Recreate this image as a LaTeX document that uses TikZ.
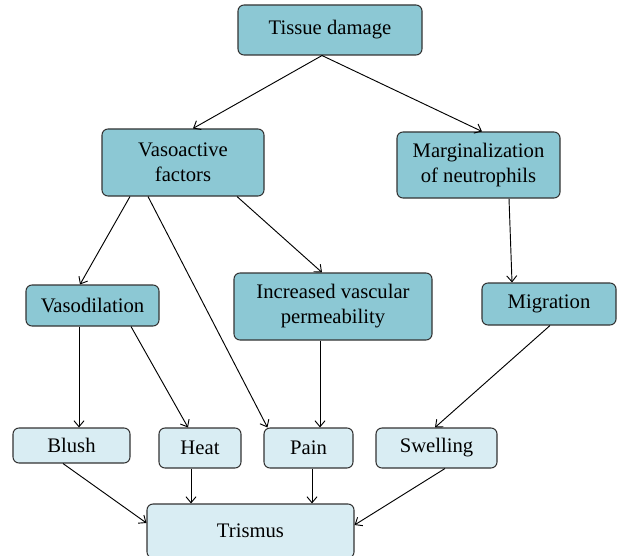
\documentclass[tikz,border=0pt]{standalone}
\usepackage{fontspec}
\setmainfont{Liberation Serif}
\usepackage{xcolor}
\usetikzlibrary{arrows.meta,calc}
\definecolor{boxdark}{HTML}{8CC8D4}
\definecolor{boxlight}{HTML}{D9EDF3}
\definecolor{edgegray}{HTML}{333333}

\begin{document}
\begin{tikzpicture}[x=0.75pt, y=-0.75pt, font=\fontsize{15.5}{18.75}\selectfont,
  b/.style={draw=edgegray, line width=0.8pt, rounded corners=4.5pt, fill=boxdark, align=center, inner sep=0pt},
  l/.style={b, fill=boxlight},
  arr/.style={line width=0.7pt, -{Straight Barb[length=4.5pt,width=7.5pt]}}]
  \useasboundingbox (0,0) rectangle (617,556);
  \node[b, minimum width=138pt, minimum height=37.5pt] (td) at (330,30) {Tissue damage};
  \node[b, minimum width=121.5pt, minimum height=50.25pt] (va) at (183,162.5) {Vasoactive\\factors};
  \node[b, minimum width=122.25pt, minimum height=49.5pt] (mn) at (478.5,165) {Marginalization\\of neutrophils};
  \node[b, minimum width=99.75pt, minimum height=30.75pt] (vd) at (92.5,305.5) {Vasodilation};
  \node[b, minimum width=148.5pt, minimum height=50.25pt] (ivp) at (333,306.5) {Increased vascular\\permeability};
  \node[b, minimum width=100.5pt, minimum height=31.5pt] (mig) at (549,304) {Migration};
  \node[l, minimum width=87.75pt, minimum height=26.25pt] (blush) at (71.5,445.5) {Blush};
  \node[l, minimum width=61.5pt, minimum height=30pt] (heat) at (200,448) {Heat};
  \node[l, minimum width=66.75pt, minimum height=30pt] (pain) at (308.5,448) {Pain};
  \node[l, minimum width=90.75pt, minimum height=30pt] (swell) at (436.5,448) {Swelling};
  \node[l, minimum width=155.25pt, minimum height=40.5pt] (tri) at (250.5,531) {Trismus};
  \foreach \u/\a/\v/\c in {td.south/-8/va.north/10, td.south/-8/mn.north/3.5, va.south/-53/vd.north/-12.5,
    va.south/-35/pain.north west/4, va.south/54/ivp.north/-11, mn.south/30.5/mig.north/-37,
    vd.south/-13.5/blush.north/7.5, vd.south/38.5/heat.north/-12, ivp.south/-13/pain.north/11.5,
    mig.south/1/swell.north/-1.5, heat.south/-9/tri.north/-59.5, pain.south/3.5/tri.north/61.5}
    \draw[arr] ($(\u)+(\a,0)$) -- ($(\v)+(\c,0)$);
  \draw[arr] ($(blush.south)+(-8.5,0)$) -- ($(tri.west)+(0,-8)$);
  \draw[arr] ($(swell.south)+(8.5,0)$) -- ($(tri.east)+(0,-6)$);
\end{tikzpicture}
\end{document}
